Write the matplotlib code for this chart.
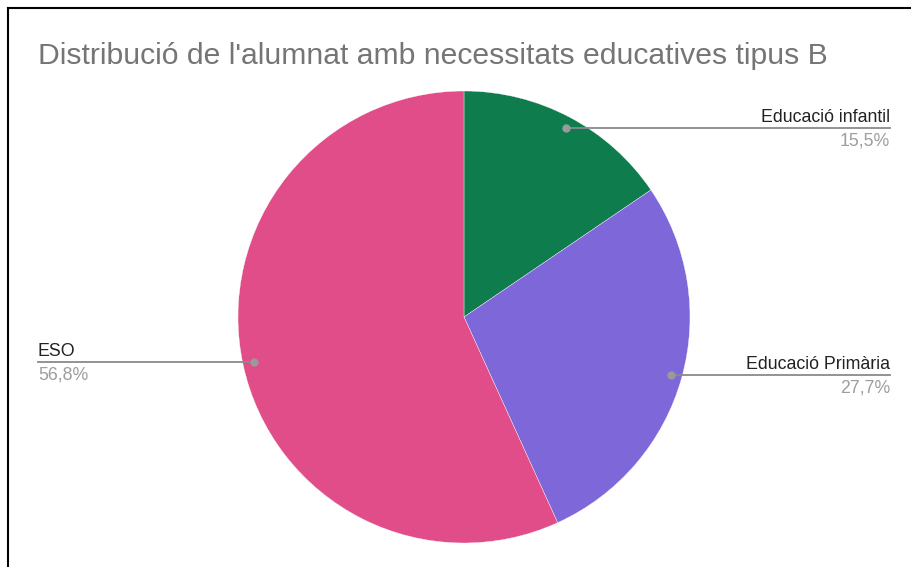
import numpy as np
import matplotlib.pyplot as plt
from matplotlib.lines import Line2D

plt.rcParams['font.family'] = ['Liberation Sans', 'DejaVu Sans']

title = "Distribució de l'alumnat amb necessitats educatives tipus B"
labels = ['Educació infantil', 'Educació Primària', 'ESO']
values = [15.5, 27.7, 56.8]
pct_text = ['15,5%', '27,7%', '56,8%']
colors = ['#0f7c4d', '#7e68d9', '#e14d88']

W, H = 911, 567
fig = plt.figure(figsize=(W / 100, H / 100), dpi=100)

# pie axes: centre (464, 317) px, radius 226 px
cx, cy, R = 464, 317, 226
ax = fig.add_axes([(cx - R) / W, (H - cy - R) / H, 2 * R / W, 2 * R / H])
ax.pie(values, colors=colors, startangle=90, counterclock=False,
       wedgeprops=dict(edgecolor='white', linewidth=0.25))
ax.set_xlim(-1, 1)
ax.set_ylim(-1, 1)
ax.set_aspect('equal')
ax.axis('off')

# label line heights (data units) and side
line_y = [0.836, -0.257, -0.199]
side = [1, 1, -1]
x_end = 1.885
r_dot = 0.95

for lab, pct, y, s in zip(labels, pct_text, line_y, side):
    xd = s * np.sqrt(r_dot ** 2 - y ** 2)
    xe = s * x_end
    ax.plot([xd, xe], [y, y], color='#8a8a8a', lw=1.3, clip_on=False, zorder=5)
    ax.plot([xd], [y], 'o', color='#9a9a9a', ms=5, clip_on=False, zorder=6)
    ha = 'right' if s > 0 else 'left'
    ax.annotate(lab, (xe, y), xytext=(0, 4.5), textcoords='offset points',
                ha=ha, va='baseline', fontsize=12.75, color='#222222',
                annotation_clip=False)
    ax.annotate(pct, (xe, y), xytext=(0, -3.5), textcoords='offset points',
                ha=ha, va='top', fontsize=12.75, color='#9e9e9e',
                annotation_clip=False)

fig.text(38 / W, 1 - 64 / H, title, fontsize=21.7, color='#757575',
         ha='left', va='baseline')

# frame (top and left edges)
fig.add_artist(Line2D([8 / W, 1], [1 - 8 / H, 1 - 8 / H], color='black', lw=1.5,
                      transform=fig.transFigure))
fig.add_artist(Line2D([8 / W, 8 / W], [1 - 8 / H, 0], color='black', lw=1.5,
                      transform=fig.transFigure))

fig.savefig('out.png', dpi=100)
